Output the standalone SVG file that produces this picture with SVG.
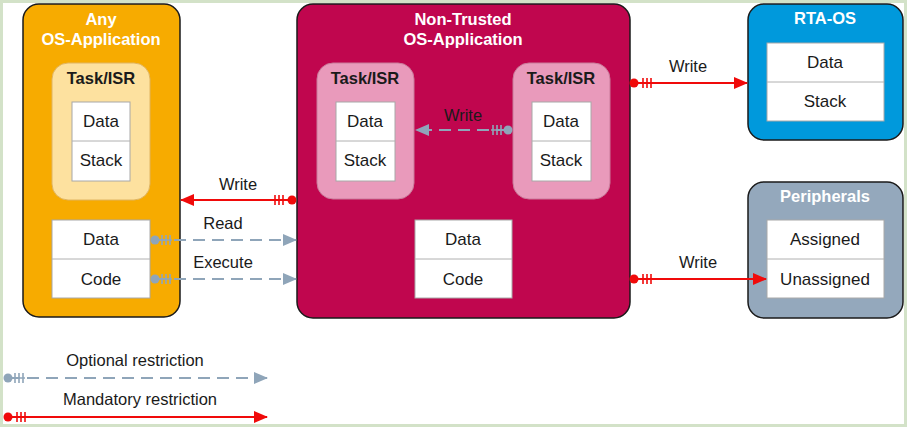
<svg xmlns="http://www.w3.org/2000/svg" width="907" height="427" viewBox="0 0 907 427">
<defs>
<style>
.t{font-family:"Liberation Sans",Arial,sans-serif;font-size:17px;fill:#1a1a1a;text-anchor:middle}
.lbl{font-family:"Liberation Sans",Arial,sans-serif;font-size:16.5px;fill:#1a1a1a;text-anchor:middle}
.title{font-family:"Liberation Sans",Arial,sans-serif;font-size:16.5px;font-weight:bold;fill:#ffffff;text-anchor:middle}
.sub{font-family:"Liberation Sans",Arial,sans-serif;font-size:16.5px;font-weight:bold;fill:#1a1a1a;text-anchor:middle}
.box{fill:#ffffff;stroke:#a8a8a8;stroke-width:1}
.div{stroke:#b0b0b0;stroke-width:1}
.outer{stroke:#1a1a1a;stroke-width:1.5}
.red{fill:none;stroke:#f00a0a;stroke-width:2}
.gray{fill:none;stroke:#8fa5b9;stroke-width:2;stroke-dasharray:12 7}
</style>
<marker id="ra" markerUnits="userSpaceOnUse" markerWidth="14" markerHeight="12" refX="13" refY="6" orient="auto">
<path d="M0,0 L14,6 L0,12 Z" fill="#f00a0a"/>
</marker>
<marker id="ga" markerUnits="userSpaceOnUse" markerWidth="14" markerHeight="12" refX="13" refY="6" orient="auto">
<path d="M0,0 L14,6 L0,12 Z" fill="#8fa5b9"/>
</marker>
<marker id="rs" markerUnits="userSpaceOnUse" markerWidth="24" markerHeight="14" refX="5" refY="7" orient="auto" overflow="visible">
<circle cx="5" cy="7" r="4.5" fill="#f00a0a"/>
<path d="M14,2 V12 M18,2 V12 M22,2 V12" stroke="#f00a0a" stroke-width="1.6"/>
</marker>
<marker id="gs" markerUnits="userSpaceOnUse" markerWidth="24" markerHeight="14" refX="5" refY="7" orient="auto" overflow="visible">
<circle cx="5" cy="7" r="4.5" fill="#8fa5b9"/>
<path d="M5,7 H22 M12,2 V12 M16,2 V12 M20,2 V12" stroke="#8fa5b9" stroke-width="1.6"/>
</marker>
</defs>
<rect x="0" y="0" width="907" height="427" fill="#ffffff"/>
<rect x="1.5" y="1.5" width="904" height="424" fill="none" stroke="#d3e2c8" stroke-width="3"/>

<g id="any-os-application">
<rect class="outer" x="23" y="4" width="157" height="313" rx="16" fill="#f7ab00"/>
<text class="title" x="101" y="25">Any</text>
<text class="title" x="101" y="45">OS-Application</text>
<rect x="52" y="63" width="98" height="137" rx="16" fill="#fde19f" stroke="#e0b460" stroke-width="1"/>
<text class="sub" x="101" y="84">Task/ISR</text>
<rect class="box" x="72" y="102" width="58" height="79"/>
<line class="div" x1="72" y1="141" x2="130" y2="141"/>
<text class="t" x="101" y="127">Data</text>
<text class="t" x="101" y="166">Stack</text>
<rect class="box" x="52" y="220" width="98" height="78"/>
<line class="div" x1="52" y1="259" x2="150" y2="259"/>
<text class="t" x="101" y="245">Data</text>
<text class="t" x="101" y="285">Code</text>
</g>

<g id="non-trusted-os-application">
<rect class="outer" x="297" y="4" width="333" height="314" rx="16" fill="#c0064e"/>
<text class="title" x="463" y="25">Non-Trusted</text>
<text class="title" x="463" y="45">OS-Application</text>
<rect x="317" y="63" width="97" height="136" rx="16" fill="#e99abb" stroke="#c97b9a" stroke-width="1"/>
<text class="sub" x="365" y="84">Task/ISR</text>
<rect class="box" x="336" y="102" width="59" height="79"/>
<line class="div" x1="336" y1="141" x2="395" y2="141"/>
<text class="t" x="365" y="127">Data</text>
<text class="t" x="365" y="166">Stack</text>
<rect x="513" y="63" width="97" height="136" rx="16" fill="#e99abb" stroke="#c97b9a" stroke-width="1"/>
<text class="sub" x="561" y="84">Task/ISR</text>
<rect class="box" x="532" y="102" width="59" height="79"/>
<line class="div" x1="532" y1="141" x2="591" y2="141"/>
<text class="t" x="561" y="127">Data</text>
<text class="t" x="561" y="166">Stack</text>
<rect class="box" x="415" y="220" width="97" height="78"/>
<line class="div" x1="415" y1="259" x2="512" y2="259"/>
<text class="t" x="463" y="245">Data</text>
<text class="t" x="463" y="285">Code</text>
</g>

<g id="rta-os">
<rect class="outer" x="748" y="4" width="155" height="136" rx="16" fill="#0099dc"/>
<text class="title" x="825" y="24">RTA-OS</text>
<rect class="box" x="767" y="43" width="117" height="78"/>
<line class="div" x1="767" y1="82" x2="884" y2="82"/>
<text class="t" x="825" y="68">Data</text>
<text class="t" x="825" y="107">Stack</text>
</g>

<g id="peripherals">
<rect class="outer" x="748" y="182" width="155" height="136" rx="16" fill="#94a8bc"/>
<text class="title" x="825" y="202">Peripherals</text>
<rect class="box" x="767" y="220" width="117" height="78"/>
<line class="div" x1="767" y1="259" x2="884" y2="259"/>
<text class="t" x="825" y="245">Assigned</text>
<text class="t" x="825" y="285">Unassigned</text>
</g>

<g id="connectors">
<path class="red" d="M292,200 H181" marker-start="url(#rs)" marker-end="url(#ra)"/>
<text class="lbl" x="238" y="190">Write</text>
<path class="gray" d="M155,240 H296" marker-start="url(#gs)" marker-end="url(#ga)"/>
<text class="lbl" x="223" y="229">Read</text>
<path class="gray" d="M155,279 H296" marker-start="url(#gs)" marker-end="url(#ga)"/>
<text class="lbl" x="223" y="268">Execute</text>
<path class="gray" d="M508,130 H416" marker-start="url(#gs)" marker-end="url(#ga)"/>
<text class="lbl" x="463" y="121">Write</text>
<path class="red" d="M634,83 H747" marker-start="url(#rs)" marker-end="url(#ra)"/>
<text class="lbl" x="688" y="72">Write</text>
<path class="red" d="M634,279 H766" marker-start="url(#rs)" marker-end="url(#ra)"/>
<text class="lbl" x="698" y="268">Write</text>
<path class="gray" d="M8,378 H267" marker-start="url(#gs)" marker-end="url(#ga)"/>
<text class="lbl" x="135" y="366">Optional restriction</text>
<path class="red" d="M8,417 H267" marker-start="url(#rs)" marker-end="url(#ra)"/>
<text class="lbl" x="140" y="405">Mandatory restriction</text>
</g>
</svg>
